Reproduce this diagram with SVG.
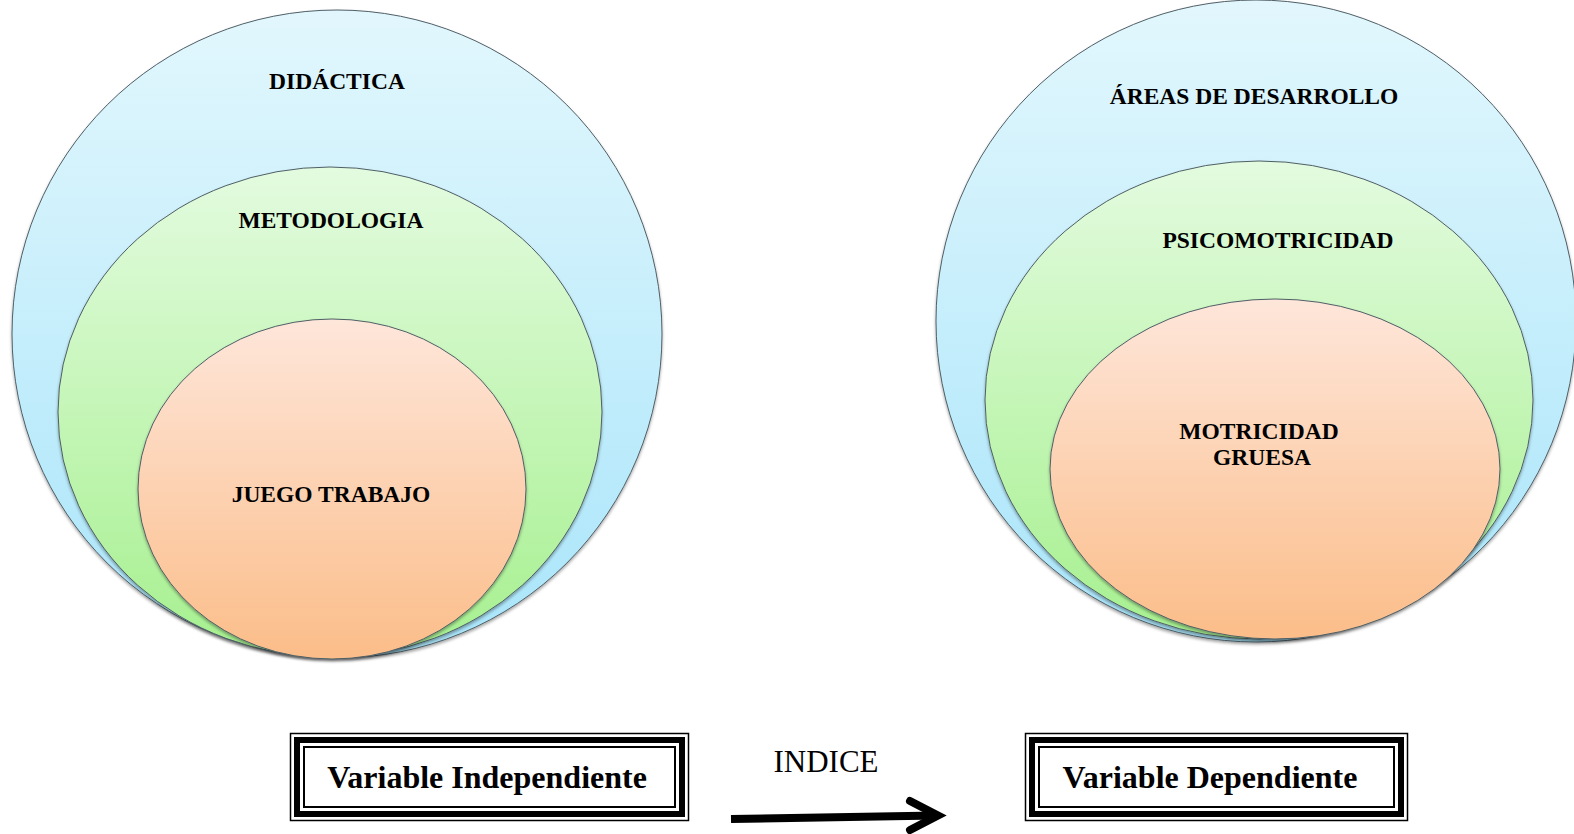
<svg xmlns="http://www.w3.org/2000/svg" width="1574" height="834" viewBox="0 0 1574 834">
<defs>
<linearGradient id="gBlue" x1="0" y1="0" x2="0" y2="1"><stop offset="0" stop-color="#e2f7fd"/><stop offset="1" stop-color="#a9e5fa"/></linearGradient>
<linearGradient id="gGreen" x1="0" y1="0" x2="0" y2="1"><stop offset="0" stop-color="#e3fbdf"/><stop offset="1" stop-color="#a6f08f"/></linearGradient>
<linearGradient id="gOrange" x1="0" y1="0" x2="0" y2="1"><stop offset="0" stop-color="#fee6da"/><stop offset="1" stop-color="#fbbd89"/></linearGradient>
<filter id="sh" x="-5%" y="-5%" width="110%" height="112%">
<feDropShadow dx="0" dy="2" stdDeviation="1.5" flood-color="#000" flood-opacity="0.35"/>
</filter>
<style>
.ring{stroke:#4f5f66;stroke-width:1;filter:url(#sh)}
.lbl{font-family:"Liberation Serif","Times New Roman",serif;font-weight:bold;font-size:23.5px;fill:#000;text-anchor:middle}
.box{font-family:"Liberation Serif","Times New Roman",serif;font-weight:bold;font-size:32px;fill:#000;text-anchor:middle}
.f1{fill:#fff;stroke:#000;stroke-width:1.5}
.f2{fill:none;stroke:#000;stroke-width:6}
.f3{fill:none;stroke:#000;stroke-width:2}
</style>
</defs>
<rect width="1574" height="834" fill="#fff"/>
<g id="didactica">
<ellipse class="ring" cx="337" cy="334" rx="325" ry="324" fill="url(#gBlue)"/>
<text class="lbl" x="337" y="89">DIDÁCTICA</text>
</g>
<g id="metodologia">
<ellipse class="ring" cx="330" cy="412" rx="272" ry="245" fill="url(#gGreen)"/>
<text class="lbl" x="331" y="228">METODOLOGIA</text>
</g>
<g id="juego-trabajo">
<ellipse class="ring" cx="332" cy="489" rx="194" ry="170" fill="url(#gOrange)"/>
<text class="lbl" x="331" y="502">JUEGO TRABAJO</text>
</g>
<g id="areas">
<ellipse class="ring" cx="1256" cy="321" rx="320" ry="321" fill="url(#gBlue)"/>
<text class="lbl" x="1254" y="104">ÁREAS DE DESARROLLO</text>
</g>
<g id="psicomotricidad">
<ellipse class="ring" cx="1259" cy="400" rx="274" ry="239" fill="url(#gGreen)"/>
<text class="lbl" x="1278" y="248">PSICOMOTRICIDAD</text>
</g>
<g id="motricidad">
<ellipse class="ring" cx="1275" cy="469" rx="225" ry="170" fill="url(#gOrange)"/>
<text class="lbl" x="1259" y="439">MOTRICIDAD</text>
<text class="lbl" x="1262" y="465">GRUESA</text>
</g>
<g id="var-independiente">
<rect class="f1" x="290.5" y="733.5" width="398" height="87"/>
<rect class="f2" x="297" y="740" width="385" height="74"/>
<rect class="f3" x="304" y="747" width="371" height="60"/>
<text class="box" x="487" y="788">Variable Independiente</text>
</g>
<g id="var-dependiente">
<rect class="f1" x="1025.5" y="733.5" width="382" height="87"/>
<rect class="f2" x="1032" y="740" width="369" height="74"/>
<rect class="f3" x="1039" y="747" width="355" height="60"/>
<text class="box" x="1210" y="788">Variable Dependiente</text>
</g>
<g id="connectors">
<text x="826" y="772" font-family="Liberation Serif,'Times New Roman',serif" font-size="31" text-anchor="middle" fill="#000">INDICE</text>
<path d="M731 819 L937 815.5" stroke="#000" stroke-width="8" fill="none"/>
<path d="M910 801 L938 815.5 L910 830" stroke="#000" stroke-width="8" fill="none" stroke-linecap="round" stroke-linejoin="miter"/>
</g>
</svg>
